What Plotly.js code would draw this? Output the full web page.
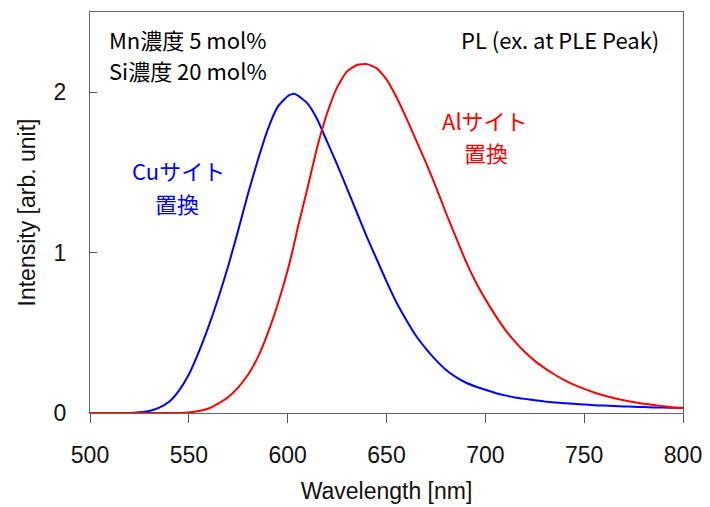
<!DOCTYPE html>
<html>
<head>
<meta charset="utf-8">
<script src="https://cdn.plot.ly/plotly-3.0.1.min.js"></script>
<style>html,body{margin:0;padding:0;background:#fff;}#chart{width:710px;height:507px;}</style>
</head>
<body>
<div id="chart"></div>
<script>
// Wavelength grid [nm]
const wavelength = [500,505,510,515,520,525,530,535,540,545,550,555,560,565,570,575,580,585,590,595,600,603,605,610,615,620,625,630,635,640,645,650,655,660,665,670,675,680,685,690,695,700,705,710,715,720,725,730,735,740,745,750,755,760,765,770,775,780,785,790,795,800];
// Cu-site substitution PL intensity
const cuSite = [0,0,0,0,0,0.004,0.012,0.033,0.07,0.14,0.24,0.38,0.54,0.72,0.92,1.14,1.37,1.58,1.77,1.91,1.975,1.99,1.98,1.93,1.83,1.69,1.55,1.40,1.25,1.10,0.96,0.82,0.69,0.58,0.48,0.40,0.33,0.27,0.225,0.19,0.165,0.145,0.125,0.11,0.097,0.088,0.08,0.072,0.066,0.061,0.057,0.053,0.049,0.046,0.043,0.041,0.039,0.037,0.035,0.034,0.033,0.032];
// Al-site substitution PL intensity
const alSite = [0,0,0,0,0,0,0,0,0,0,0.003,0.012,0.028,0.06,0.10,0.16,0.24,0.35,0.50,0.68,0.89,1.04,1.15,1.40,1.66,1.87,2.03,2.13,2.17,2.175,2.15,2.08,1.97,1.84,1.70,1.56,1.41,1.25,1.10,0.95,0.82,0.71,0.61,0.52,0.445,0.38,0.325,0.28,0.24,0.205,0.175,0.15,0.128,0.109,0.093,0.08,0.068,0.058,0.05,0.042,0.035,0.03];

const xTicks = [500,550,600,650,700,750,800];
const yTicks = [0,1,2];

const cjk = '"Noto Sans CJK JP", "Noto Sans", sans-serif';
const arial = 'Arial, "Liberation Sans", sans-serif';

const traces = [
  {x: wavelength, y: cuSite, type: 'scatter', mode: 'lines', line: {color: '#0000ff', width: 2, shape: 'spline', smoothing: 0.5}, name: 'Cu', hoverinfo: 'skip'},
  {x: wavelength, y: alSite, type: 'scatter', mode: 'lines', line: {color: '#ff0000', width: 2, shape: 'spline', smoothing: 0.5}, name: 'Al', hoverinfo: 'skip'}
];

function note(text, x, y, anchor, color) {
  return {xref: 'paper', yref: 'paper', x: x, y: y, xanchor: anchor, yanchor: 'middle', showarrow: false,
          text: text, font: {family: cjk, size: 22, color: color}};
}

const layout = {
  width: 710, height: 507,
  margin: {l: 90, r: 27, t: 12, b: 94},
  paper_bgcolor: '#fff', plot_bgcolor: '#fff',
  showlegend: false,
  xaxis: {
    range: [500, 800], tickvals: xTicks, ticktext: xTicks.map(String),
    ticks: 'outside', ticklen: 9, tickcolor: '#555', tickwidth: 1,
    showline: true, linecolor: '#666', linewidth: 1, mirror: true,
    showgrid: false, zeroline: false,
    tickfont: {family: arial, size: 23, color: '#111'},
    ticklabelstandoff: 12,
    title: {text: 'Wavelength [nm]', font: {family: arial, size: 23, color: '#111'}, standoff: 16}
  },
  yaxis: {
    range: [0, 2.5], tickvals: yTicks, ticktext: yTicks.map(String),
    ticks: 'inside', ticklen: 7, tickcolor: '#555', tickwidth: 1,
    showline: true, linecolor: '#666', linewidth: 1, mirror: true,
    showgrid: false, zeroline: false,
    tickfont: {family: arial, size: 23, color: '#111'},
    ticklabelstandoff: 18,
    title: {text: 'Intensity [arb. unit]', font: {family: arial, size: 23, color: '#111'}, standoff: 11}
  },
  annotations: [
    note('Mn濃度 5 mol%', 0.028, 0.932, 'left', '#000'),
    note('Si濃度 20 mol%', 0.028, 0.855, 'left', '#000'),
    note('PL (ex. at PLE Peak)', 0.963, 0.932, 'right', '#000'),
    note('Alサイト', 0.666, 0.731, 'center', '#ff0000'),
    note('置換', 0.668, 0.651, 'center', '#ff0000'),
    note('Cuサイト', 0.150, 0.606, 'center', '#0000ff'),
    note('置換', 0.146, 0.524, 'center', '#0000ff')
  ]
};

Plotly.newPlot('chart', traces, layout, {displayModeBar: false, staticPlot: true});
</script>
</body>
</html>
